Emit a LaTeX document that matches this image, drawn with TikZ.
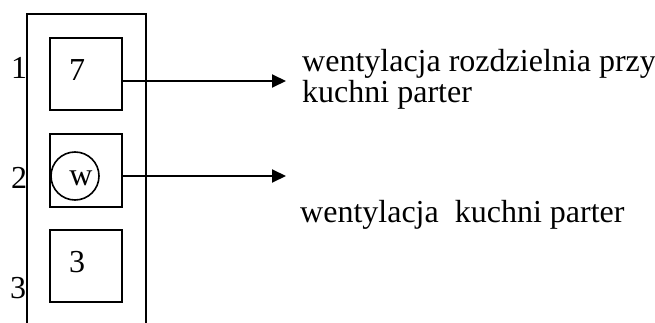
\documentclass[tikz,border=0pt]{standalone}
\usepackage{fontspec}
\setmainfont{Liberation Serif}
\usetikzlibrary{arrows.meta}
\tikzset{
    komora/.style={draw, line width=2pt, minimum width=72pt, minimum height=72pt, inner sep=0pt},
    opis/.style={anchor=base west, inner sep=0pt, align=left},
    strzalka/.style={line width=2pt, -{Triangle[length=14pt, width=13pt]}}
}
\begin{document}
\begin{tikzpicture}[x=1pt, y=-1pt, font=\fontsize{32}{31}\selectfont]
    \useasboundingbox (0,0) rectangle (655,323);

    % szafka
    \draw[line width=2pt] (27,323) -- (27,14) -- (146,14) -- (146,323);

    \node[komora] (box7) at (86,74) {};
    \node[komora] (boxW) at (86,170.5) {};
    \node[komora] (box3) at (86,266) {};

    \node (n7) at (77,70) {7};
    \node[draw, circle, line width=1.6pt, minimum size=48pt, inner sep=0pt] (went) at (75,176) {};
    \node at (81,178) {w};
    \node (n3) at (77,262) {3};

    \node (l1) at (19,68) {1};
    \node (l2) at (19,178) {2};
    \node (l3) at (18,288) {3};

    \coordinate (end1) at (286,81);
    \coordinate (end2) at (286,176);
    \draw[strzalka] (box7.east |- end1) -- (end1);
    \draw[strzalka] (boxW.east |- end2) -- (end2);

    % ostatnia linia na bazie
    \node[opis] (t1) at (302,103) {wentylacja rozdzielnia przy\\kuchni parter};
    \node[opis] (t2) at (300,222) {wentylacja\ \ kuchni parter};
\end{tikzpicture}
\end{document}
